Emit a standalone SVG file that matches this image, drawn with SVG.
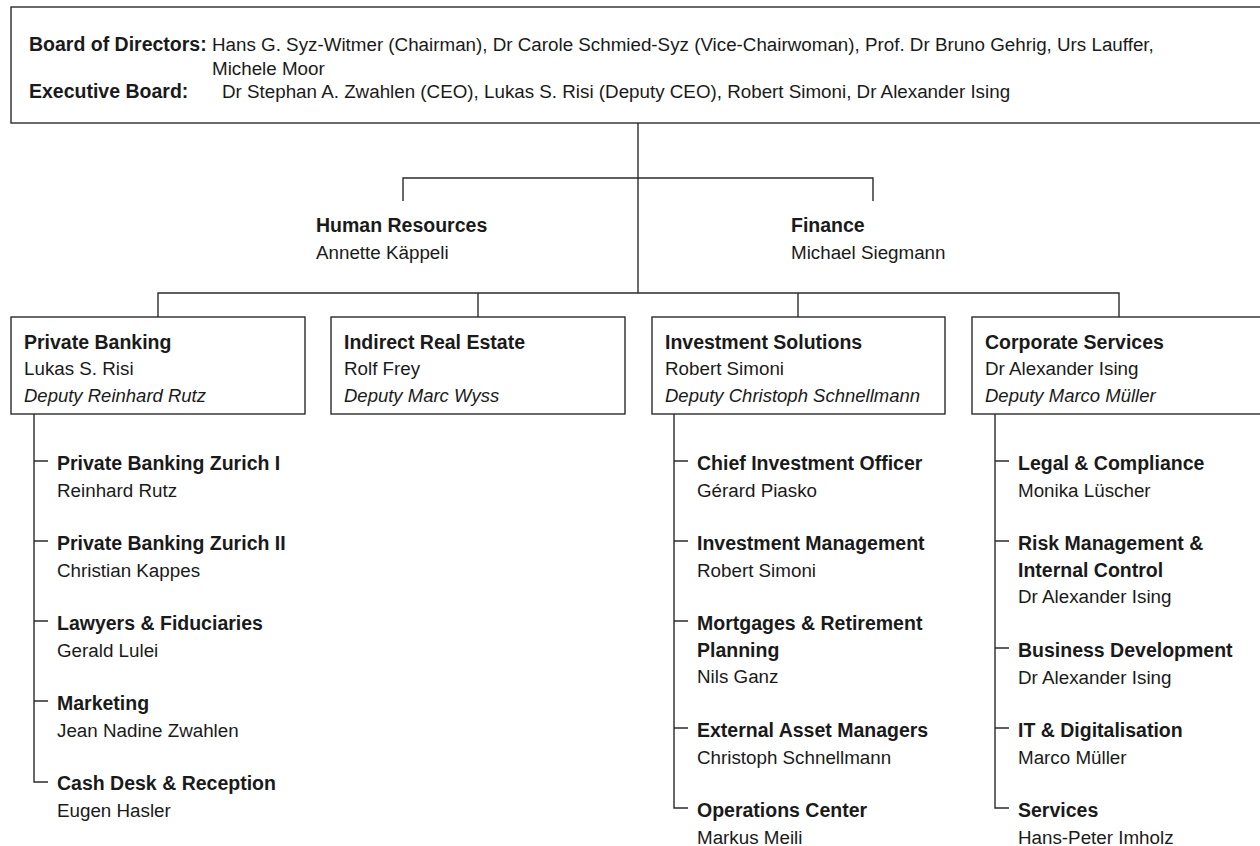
<svg xmlns="http://www.w3.org/2000/svg" width="1260" height="846" viewBox="0 0 1260 846">
<style>
text{font-family:"Liberation Sans",Arial,sans-serif;fill:#1a1a1a;font-size:18.8px}
.b{font-weight:bold;font-size:19.5px}
.i{font-style:italic;font-size:18.5px}
.box{fill:#fff;stroke:#2b2b2b;stroke-width:1.4}
.ln{fill:none;stroke:#2b2b2b;stroke-width:1.4}
</style>
<rect width="1260" height="846" fill="#fff"/>
<g id="connectors" class="ln">
<path d="M638 123V293"/>
<path d="M403 201V178H873V201"/>
<path d="M158 317V293H1119V317"/>
<path d="M478 293V317"/>
<path d="M798 293V317"/>
<path d="M34 414V782H48"/>
<path d="M34 461H48M34 541H48M34 621H48M34 701H48"/>
<path d="M674 414V808H688"/>
<path d="M674 461H688M674 541H688M674 621H688M674 728H688"/>
<path d="M995 414V808H1009"/>
<path d="M995 461H1009M995 541H1009M995 648H1009M995 728H1009"/>
</g>
<g id="board">
<rect class="box" x="11" y="7" width="1262" height="116"/>
<text class="b" x="29" y="51">Board of Directors:</text>
<text x="212" y="51">Hans G. Syz-Witmer (Chairman), Dr Carole Schmied-Syz (Vice-Chairwoman), Prof. Dr Bruno Gehrig, Urs Lauffer,</text>
<text x="212" y="75">Michele Moor</text>
<text class="b" x="29" y="98">Executive Board:</text>
<text x="222" y="98">Dr Stephan A. Zwahlen (CEO), Lukas S. Risi (Deputy CEO), Robert Simoni, Dr Alexander Ising</text>
</g>
<g id="hr">
<text class="b" x="316" y="232">Human Resources</text>
<text x="316" y="259">Annette Käppeli</text>
</g>
<g id="finance">
<text class="b" x="791" y="232">Finance</text>
<text x="791" y="259">Michael Siegmann</text>
</g>
<g id="private-banking">
<rect class="box" x="11" y="317" width="294" height="97"/>
<text class="b" x="24" y="349">Private Banking</text>
<text x="24" y="375">Lukas S. Risi</text>
<text class="i" x="24" y="402">Deputy Reinhard Rutz</text>
</g>
<g id="indirect-real-estate">
<rect class="box" x="331" y="317" width="294" height="97"/>
<text class="b" x="344" y="349">Indirect Real Estate</text>
<text x="344" y="375">Rolf Frey</text>
<text class="i" x="344" y="402">Deputy Marc Wyss</text>
</g>
<g id="investment-solutions">
<rect class="box" x="652" y="317" width="293" height="97"/>
<text class="b" x="665" y="349">Investment Solutions</text>
<text x="665" y="375">Robert Simoni</text>
<text class="i" x="665" y="402">Deputy Christoph Schnellmann</text>
</g>
<g id="corporate-services">
<rect class="box" x="972" y="317" width="300" height="97"/>
<text class="b" x="985" y="349">Corporate Services</text>
<text x="985" y="375">Dr Alexander Ising</text>
<text class="i" x="985" y="402">Deputy Marco Müller</text>
</g>
<g id="pb-zurich-1"><text class="b" x="57" y="470">Private Banking Zurich I</text><text x="57" y="496.7">Reinhard Rutz</text></g>
<g id="pb-zurich-2"><text class="b" x="57" y="550">Private Banking Zurich II</text><text x="57" y="576.7">Christian Kappes</text></g>
<g id="lawyers"><text class="b" x="57" y="630">Lawyers &amp; Fiduciaries</text><text x="57" y="656.7">Gerald Lulei</text></g>
<g id="marketing"><text class="b" x="57" y="710">Marketing</text><text x="57" y="736.7">Jean Nadine Zwahlen</text></g>
<g id="cash-desk"><text class="b" x="57" y="790">Cash Desk &amp; Reception</text><text x="57" y="816.7">Eugen Hasler</text></g>
<g id="cio"><text class="b" x="697" y="470">Chief Investment Officer</text><text x="697" y="496.7">Gérard Piasko</text></g>
<g id="investment-management"><text class="b" x="697" y="550">Investment Management</text><text x="697" y="576.7">Robert Simoni</text></g>
<g id="mortgages"><text class="b" x="697" y="630">Mortgages &amp; Retirement</text><text class="b" x="697" y="656.7">Planning</text><text x="697" y="683.4">Nils Ganz</text></g>
<g id="external-asset-managers"><text class="b" x="697" y="737">External Asset Managers</text><text x="697" y="763.7">Christoph Schnellmann</text></g>
<g id="operations-center"><text class="b" x="697" y="817">Operations Center</text><text x="697" y="843.7">Markus Meili</text></g>
<g id="legal"><text class="b" x="1018" y="470">Legal &amp; Compliance</text><text x="1018" y="496.7">Monika Lüscher</text></g>
<g id="risk"><text class="b" x="1018" y="550">Risk Management &amp;</text><text class="b" x="1018" y="576.7">Internal Control</text><text x="1018" y="603.4">Dr Alexander Ising</text></g>
<g id="business-development"><text class="b" x="1018" y="657">Business Development</text><text x="1018" y="683.7">Dr Alexander Ising</text></g>
<g id="it"><text class="b" x="1018" y="737">IT &amp; Digitalisation</text><text x="1018" y="763.7">Marco Müller</text></g>
<g id="services"><text class="b" x="1018" y="817">Services</text><text x="1018" y="843.7">Hans-Peter Imholz</text></g>
</svg>
